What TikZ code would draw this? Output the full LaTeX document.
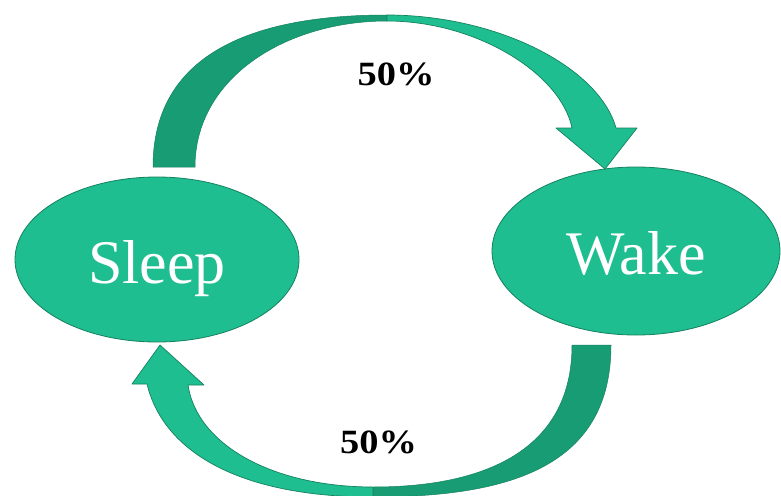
\documentclass[tikz,border=0pt]{standalone}
\usepackage{fontspec}
\usepackage{graphicx}
\setmainfont{Liberation Serif}
\usetikzlibrary{shapes.geometric}
\definecolor{lightgreen}{RGB}{30,190,145}
\definecolor{darkgreen}{RGB}{24,156,116}
\definecolor{edgegreen}{RGB}{20,130,95}
\tikzset{
  stateoval/.style={ellipse, fill=lightgreen, draw=edgegreen, line width=0.8pt,
    inner sep=0pt, text=white, text height=47pt, text depth=0pt,
    font=\fontsize{62}{62}\selectfont},
  frontband/.style={fill=lightgreen, draw=edgegreen, line width=0.7pt, line join=round},
  backband/.style={fill=darkgreen, draw=edgegreen, line width=0.5pt, line join=round},
  pctlabel/.style={anchor=base, inner sep=0pt, font=\fontsize{34}{34}\selectfont\bfseries}
}
\begin{document}
\begin{tikzpicture}[x=1pt,y=-1pt]
\useasboundingbox (0,0) rectangle (781,495);
\fill[white] (0,0) rectangle (781,495);
% states
\node[stateoval, minimum width=284pt, minimum height=165pt] (sleep) at (157,259.5) {Sleep};
\node[stateoval, minimum width=288pt, minimum height=168pt] (wake) at (636,251) {Wake};
% top arrow: Sleep -> Wake
\coordinate (tLo) at (153,167);
\coordinate (tLi) at (195,167);
\coordinate (tPo) at (387,15);
\coordinate (tPi) at (387,21);
\coordinate (tEo) at (616,128);
\coordinate (tEi) at (572,128);
\coordinate (tWr) at (637,128);
\coordinate (tWl) at (556,128);
\coordinate (tTip) at (605,169);
\path[backband] (tLo) .. controls (153,57) and (247,15) .. (tPo) -- (tPi)
  .. controls (287,21) and (195,77) .. (tLi) -- cycle;
\path[frontband] (tPo) .. controls (497,15) and (599,67) .. (tEo) -- (tWr) -- (tTip)
  -- (tWl) -- (tEi) .. controls (561,74) and (477,21) .. (tPi) -- cycle;
% bottom arrow: Wake -> Sleep
\coordinate (bRo) at (611,345);
\coordinate (bRi) at (572,345);
\coordinate (bBo) at (373,497);
\coordinate (bBi) at (373,487);
\coordinate (bEo) at (147,384);
\coordinate (bEi) at (188,385);
\coordinate (bWl) at (132,384);
\coordinate (bWr) at (204,385);
\coordinate (bTip) at (160,345);
\path[backband] (bRo) .. controls (611,465) and (513,497) .. (bBo) -- (bBi)
  .. controls (493,487) and (572,445) .. (bRi) -- cycle;
\path[frontband] (bBo) .. controls (243,497) and (164,454) .. (bEo) -- (bWl) -- (bTip)
  -- (bWr) -- (bEi) .. controls (197,445) and (273,487) .. (bBi) -- cycle;
% labels
\node[pctlabel] (ptop) at (396,85) {\scalebox{1.13}[1]{50\%}};
\node[pctlabel] (pbot) at (378.5,453) {\scalebox{1.13}[1]{50\%}};
\end{tikzpicture}
\end{document}
